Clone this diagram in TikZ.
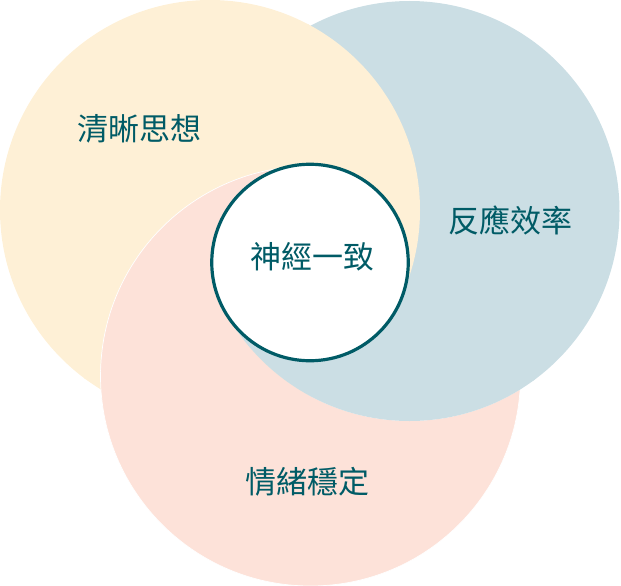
\documentclass[tikz,border=0pt]{standalone}
\usepackage{fontspec}
\newfontfamily\cjk{Noto Sans CJK TC}
\usepackage{tikz}
\usetikzlibrary{calc}
\definecolor{clearY}{HTML}{FEF0D6}
\definecolor{speedB}{HTML}{CBDEE4}
\definecolor{calmP}{HTML}{FDE2D9}
\definecolor{nerveT}{HTML}{005B66}
\tikzset{
  venntext/.style={text=nerveT, inner sep=0pt, font=\cjk\fontsize{31}{36}\selectfont},
  pinkdisc/.style={fill=calmP, draw=white, line width=0.7pt}
}

\begin{document}
\begin{tikzpicture}[x=1pt,y=-1pt]
\useasboundingbox (0.000000,0.000000) rectangle (621.000000,586.000000);
% Centres of the discs
\coordinate (mid) at (310.000000,262.500000);
\coordinate (cY) at (210.000000,210.000000);
\coordinate (cB) at (409.500000,211.000000);
\coordinate (cP) at (310.500000,376.000000);
% Sector 1: top to lower right, yellow over blue over pink
\begin{scope}
\clip (mid) -- +(-90.5:1000) -- +(-31:1000) -- +(28:1000) -- cycle;
\fill[calmP] (cP) circle(210.000000pt);
\fill[speedB] (cB) circle(210.000000pt);
\fill[clearY] (cY) circle(210.000000pt);
\end{scope}
% Sector 2: bottom, blue over pink over yellow
\begin{scope}
\clip (mid) -- +(27.5:1000) -- +(90:1000) -- +(153:1000) -- cycle;
\fill[clearY] (cY) circle(210.000000pt);
\begin{scope}[even odd rule]
\clip (-20.000000,-20.000000) rectangle (641.000000,606.000000) (cB) circle(210.000000pt);
\filldraw[pinkdisc] (cP) circle(210.000000pt);
\end{scope}
\fill[speedB] (cB) circle(210.000000pt);
\end{scope}
% Sector 3: left, pink over yellow over blue
\begin{scope}
\clip (mid) -- +(152.5:1000) -- +(211:1000) -- +(270:1000) -- cycle;
\begin{scope}[even odd rule]
\clip (-20.000000,-20.000000) rectangle (641.000000,606.000000) (cY) circle(210.000000pt);
\fill[speedB] (cB) circle(210.000000pt);
\end{scope}
\begin{scope}[even odd rule]
\clip (-20.000000,-20.000000) rectangle (641.000000,606.000000) (cP) circle(210.000000pt);
\fill[clearY] (cY) circle(210.000000pt);
\end{scope}
\filldraw[pinkdisc] (cP) circle(210.000000pt);
\end{scope}
% Centre disc
\node[circle, draw=nerveT, fill=white, line width=3.2pt, inner sep=0pt, minimum size=196.5pt] (core) at (mid) {};
% Labels
\node[venntext] (clear) at (139.500000,129.000000) {清晰思想};
\node[venntext] (speed) at (510.000000,220.000000) {反應效率};
\node[venntext] (nerve) at (312.000000,257.000000) {神經一致};
\node[venntext] (calm) at (307.500000,482.000000) {情緒穩定};
\end{tikzpicture}
\end{document}
